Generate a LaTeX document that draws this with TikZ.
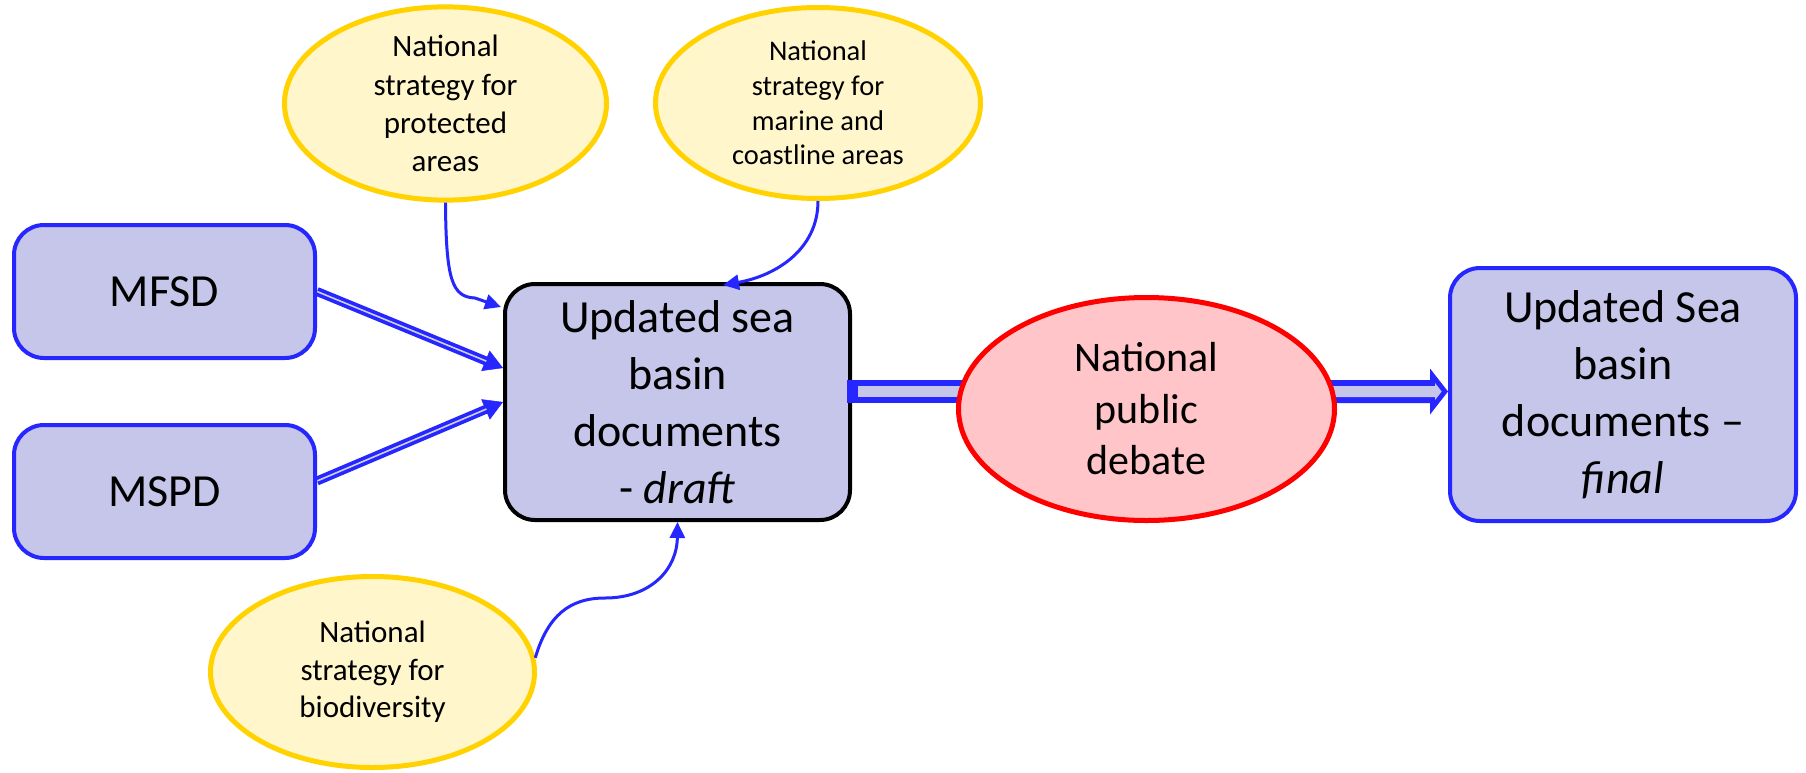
\documentclass[tikz,border=0pt]{standalone}
\usepackage{fontspec}
\setmainfont{Carlito}
\usetikzlibrary{shapes.geometric,arrows.meta,calc}
\pgfdeclarelayer{back}
\pgfdeclarelayer{bg}
\pgfdeclarelayer{fg}
\pgfsetlayers{back,bg,main,fg}
\definecolor{lav}{HTML}{C5C6EA}
\definecolor{ablue}{HTML}{2626FF}
\definecolor{yfill}{HTML}{FFF6CC}
\definecolor{yline}{HTML}{FFD200}
\definecolor{pfill}{HTML}{FFC5C8}
\definecolor{rline}{HTML}{FF0000}
\definecolor{inlight}{HTML}{CFCFF0}
\tikzset{
  bluebox/.style={rectangle, rounded corners=30pt, draw=ablue, fill=lav, line width=4pt, inner sep=0pt, align=center},
  draftbox/.style={rectangle, rounded corners=30pt, draw=black, fill=lav, line width=4pt, inner sep=0pt, align=center},
  yell/.style={ellipse, draw=yline, fill=yfill, line width=5pt, inner sep=0pt, align=center},
  pinkell/.style={ellipse, draw=rline, fill=pfill, line width=5pt, inner sep=0pt, align=center},
  thinarrow/.style={draw=ablue, line width=3pt, -{Triangle[length=16pt,width=15pt]}},
  dblouter/.style={draw=ablue, line width=9pt, shorten >=12pt},
  dblinner/.style={draw=inlight, line width=1.6pt, shorten >=18pt},
  dbltip/.style={draw=ablue, line width=0.5pt, -{Triangle[length=19pt,width=22pt]}},
}
\begin{document}
\begin{tikzpicture}[x=1pt,y=-1pt]
\begin{pgfonlayer}{back}
\useasboundingbox[fill=white] (0,0) rectangle (1806,772);
\end{pgfonlayer}

\node[bluebox, minimum width=301pt, minimum height=133pt, font={\fontsize{46pt}{55pt}\selectfont}] (mfsd) at (164.5,291.5) {MFSD};
\node[bluebox, minimum width=301pt, minimum height=133pt, font={\fontsize{46pt}{55pt}\selectfont}] (mspd) at (164.5,491.5) {MSPD};
\node[draftbox, minimum width=345pt, minimum height=236pt, font={\fontsize{46pt}{57pt}\selectfont}] (draft) at (677.5,402) {Updated sea\\basin\\documents\\- \textit{draft}};
\begin{pgfonlayer}{fg}
\node[pinkell, minimum width=376pt, minimum height=223pt, font={\fontsize{42pt}{51.5pt}\selectfont}] (debate) at (1146.5,409) {National\\public\\debate};
\end{pgfonlayer}
\node[bluebox, minimum width=346pt, minimum height=253pt, font={\fontsize{46pt}{57pt}\selectfont}] (final) at (1623,394.5) {Updated Sea\\basin\\documents --\\\textit{final}};
\node[yell, minimum width=322pt, minimum height=192pt, font={\fontsize{31pt}{38.3pt}\selectfont}] (prot) at (445.5,103.5) {National\\strategy for\\protected\\areas};
\node[yell, minimum width=325pt, minimum height=191pt, font={\fontsize{28.5pt}{34.7pt}\selectfont}] (marine) at (818,103) {National\\strategy for\\marine and\\coastline areas};
\node[yell, minimum width=324pt, minimum height=191pt, font={\fontsize{31pt}{37.5pt}\selectfont}] (bio) at (372.5,672) {National\\strategy for\\biodiversity};

% double-line arrows from MFSD and MSPD
\coordinate (m1) at ($(draft.west)+(0,-34)$);
\coordinate (s2) at ($(mspd.east)+(0,-10.5)$);
\begin{pgfonlayer}{bg}
\draw[dblouter] (mfsd.east) -- (m1);
\draw[dbltip] (mfsd.east) -- (m1);
\draw[dblinner] (mfsd.east) -- (m1);
\draw[dblouter] (s2) -- (draft.west);
\draw[dbltip] (s2) -- (draft.west);
\draw[dblinner] (s2) -- (draft.west);
\end{pgfonlayer}

% curved thin arrows
\coordinate (tA) at (501,307);
\coordinate (tB) at (723,285);
\draw[thinarrow] (prot.south) .. controls (446,280) and (452,297) .. (475,298) -- (tA);
\draw[thinarrow] (marine.south) .. controls (818,250) and (775,276) .. (tB);
\draw[thinarrow] (bio.5) .. controls (548,615) and (570,598) .. (605,598) .. controls (650,598) and (677,570) .. (draft.south);

% block band draft -> debate
\coordinate (b1s) at ($(draft.east)+(-5,-10.5)$);
\coordinate (b1e) at ($(debate.west)+(20,-17.5)$);
\fill[ablue] ($(b1s)+(0,-11.5)$) rectangle ($(b1e)+(0,11.5)$);
\fill[lav] ($(b1s)+(11,-5.5)$) rectangle ($(b1e)+(0,5.5)$);

% block arrow debate -> final
\coordinate (S) at ($(debate.east)+(-20,-17.5)$);
\coordinate (T) at ($(final.west)+(0,-3)$);
\fill[ablue] ($(S)+(0,-11.5)$) -- ($(T)+(-18,-11.5)$) -- ($(T)+(-18,-23)$) -- (T) -- ($(T)+(-18,23)$) -- ($(T)+(-18,11.5)$) -- ($(S)+(0,11.5)$) -- cycle;
\fill[lav] ($(S)+(0,-5.5)$) -- ($(T)+(-13,-5.5)$) -- ($(T)+(-13,-8.5)$) -- ($(T)+(-6.3,0)$) -- ($(T)+(-13,8.5)$) -- ($(T)+(-13,5.5)$) -- ($(S)+(0,5.5)$) -- cycle;
\end{tikzpicture}
\end{document}
